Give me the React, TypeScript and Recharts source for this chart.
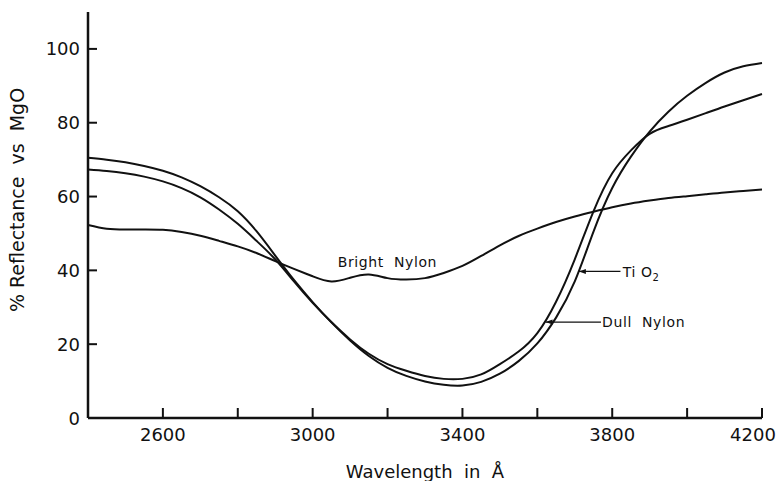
import { LineChart, Line, XAxis, YAxis, ReferenceLine, ReferenceDot } from 'recharts';

// wavelength in angstrom
const wavelengths = [
  2400, 2450, 2500, 2550, 2600, 2650, 2700, 2750, 2800, 2850, 2900, 2950, 3000, 3050, 3100, 3150, 3200, 3250, 3300,
  3350, 3400, 3450, 3500, 3550, 3600, 3650, 3700, 3750, 3800, 3850, 3900, 3950, 4000, 4050, 4100, 4150, 4200,
];

const brightNylon = [
  52.3, 51.3, 51.1, 51.1, 51.0, 50.4, 49.4, 48.0, 46.5, 44.7, 42.5, 40.4, 38.4, 37.0, 38.0, 38.9, 37.9, 37.5, 37.9,
  39.3, 41.2, 43.9, 46.8, 49.3, 51.3, 53.1, 54.6, 55.9, 57.1, 58.1, 58.9, 59.6, 60.1, 60.6, 61.1, 61.5, 61.9,
];

const tio2 = [
  70.5, 70.0, 69.3, 68.3, 67.0, 65.2, 62.8, 59.8, 56.0, 50.6, 44.0, 37.4, 31.4, 25.9, 21.0, 16.8, 13.6, 11.4, 9.9,
  9.0, 8.8, 9.8, 12.0, 15.4, 20.2, 27.2, 37.0, 50.5, 62.3, 70.8, 77.6, 83.0, 87.3, 90.8, 93.6, 95.3, 96.2,
];

const dullNylon = [
  67.3, 66.9, 66.3, 65.4, 64.1, 62.3, 59.8, 56.5, 52.6, 48.0, 43.0, 37.0, 31.2, 26.0, 21.3, 17.4, 14.6, 12.8, 11.4,
  10.6, 10.6, 11.8, 14.6, 18.0, 23.0, 31.5, 43.0, 56.0, 66.3, 72.5, 77.0, 79.1, 80.8, 82.6, 84.4, 86.1, 87.8,
];

const xTicks = [2600, 2800, 3000, 3200, 3400, 3600, 3800, 4000, 4200];
const xTickLabels = ['2600', '3000', '3400', '3800', '4200'];
const yTicks = [0, 20, 40, 60, 80, 100];

const data = wavelengths.map((w, i) => ({
  w,
  bright: brightNylon[i],
  tio2: tio2[i],
  dull: dullNylon[i],
}));

const FONT = '"DejaVu Sans", sans-serif';
const INK = '#111';

const XTick = (props: any) => {
  const { x, y, payload, index } = props;
  const label = String(payload.value);
  // the last label sits a little left of its tick in the original
  const shift = index === xTicks.length - 1 ? -9 : 0;
  return (
    <g>
      <line x1={x} y1={y} x2={x} y2={y - 10} stroke={INK} strokeWidth={2} />
      {xTickLabels.includes(label) && (
        <text x={x + shift} y={y + 23} textAnchor="middle" fontSize={18} fontFamily={FONT} fill={INK}>
          {label}
        </text>
      )}
    </g>
  );
};

const YTick = (props: any) => {
  const { x, y, payload } = props;
  return (
    <g>
      <line x1={x} y1={y} x2={x + 9} y2={y} stroke={INK} strokeWidth={2} />
      <text x={x - 8} y={y + 6.5} textAnchor="end" fontSize={18} fontFamily={FONT} fill={INK}>
        {payload.value}
      </text>
    </g>
  );
};

const XTitle = (props: any) => {
  const { viewBox } = props;
  const cx = viewBox.x + viewBox.width / 2;
  return (
    <text x={cx} y={viewBox.y + 60} textAnchor="middle" fontSize={18} fontFamily={FONT} fill={INK} style={{ whiteSpace: 'pre' }}>
      {'Wavelength  in  Å'}
    </text>
  );
};

const YTitle = (props: any) => {
  const { viewBox } = props;
  const cx = viewBox.x + 24;
  const cy = viewBox.y + 188;
  return (
    <text
      x={cx}
      y={cy}
      transform={`rotate(-90 ${cx} ${cy})`}
      textAnchor="middle"
      fontSize={19}
      fontFamily={FONT}
      fill={INK}
      style={{ whiteSpace: 'pre' }}
    >
      {'% Reflectance  vs  MgO'}
    </text>
  );
};

const note = (content: any) => (props: any) => {
  const { cx, cy } = props;
  return (
    <text x={cx} y={cy} fontSize={14} fontFamily={FONT} fill={INK} letterSpacing={0.6} style={{ whiteSpace: 'pre' }}>
      {content}
    </text>
  );
};

const arrowHead = (props: any) => {
  const { cx, cy } = props;
  return <polygon points={`${cx},${cy} ${cx + 7},${cy - 2.5} ${cx + 7},${cy + 2.5}`} fill={INK} />;
};

export default function App() {
  return (
    <div style={{ position: 'absolute', left: 0, top: 0, background: '#fff' }}>
      <LineChart width={783} height={481} data={data} margin={{ top: 12, right: 21, left: 0, bottom: 0 }}>
        <XAxis
          dataKey="w"
          type="number"
          domain={[2400, 4200]}
          ticks={xTicks}
          interval={0}
          tickSize={0}
          tickMargin={0}
          tick={<XTick />}
          height={63}
          axisLine={{ stroke: INK, strokeWidth: 2.5 }}
          label={{ content: <XTitle /> }}
        />
        <YAxis
          type="number"
          domain={[0, 110]}
          ticks={yTicks}
          interval={0}
          tickSize={0}
          tickMargin={0}
          tick={<YTick />}
          width={88}
          axisLine={{ stroke: INK, strokeWidth: 2.5 }}
          label={{ content: <YTitle /> }}
        />
        <Line type="natural" dataKey="bright" stroke={INK} strokeWidth={2} dot={false} isAnimationActive={false} />
        <Line type="natural" dataKey="tio2" stroke={INK} strokeWidth={2} dot={false} isAnimationActive={false} />
        <Line type="natural" dataKey="dull" stroke={INK} strokeWidth={2} dot={false} isAnimationActive={false} />

        <ReferenceDot x={3067} y={40.8} r={0} shape={note('Bright  Nylon')} />

        <ReferenceLine segment={[{ x: 3711, y: 39.7 }, { x: 3822, y: 39.7 }]} stroke={INK} strokeWidth={1.3} />
        <ReferenceDot x={3711} y={39.7} r={0} shape={arrowHead} />
        <ReferenceDot
          x={3828}
          y={38.3}
          r={0}
          shape={note(
            <>
              {'Ti O'}
              <tspan fontSize={10} dy={4}>2</tspan>
            </>,
          )}
        />

        <ReferenceLine segment={[{ x: 3622, y: 26 }, { x: 3770, y: 26 }]} stroke={INK} strokeWidth={1.3} />
        <ReferenceDot x={3622} y={26} r={0} shape={arrowHead} />
        <ReferenceDot x={3773} y={24.6} r={0} shape={note('Dull  Nylon')} />
      </LineChart>
    </div>
  );
}
